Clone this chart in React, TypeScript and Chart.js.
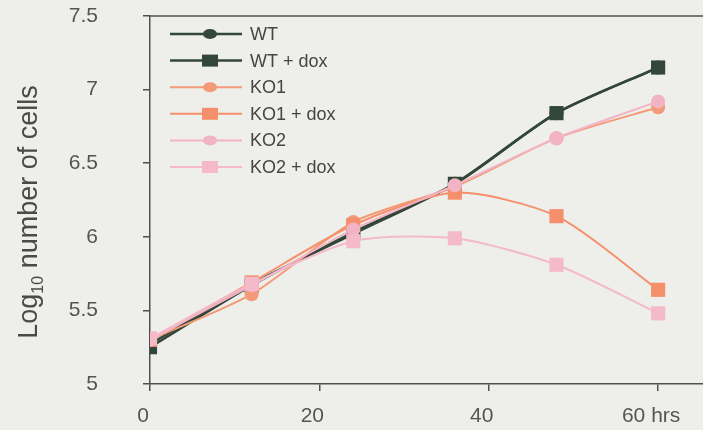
import React, { useEffect, useRef } from "react";
import { Chart, registerables } from "chart.js";

Chart.register(...registerables);

// ---- data ----
const hours = [0, 12, 24, 36, 48, 60];
const seriesLabels = ["WT", "WT + dox", "KO1", "KO1 + dox", "KO2", "KO2 + dox"];
const wt = [5.27, 5.68, 6.02, 6.36, 6.84, 7.15];
const wtDox = [5.25, 5.67, 6.03, 6.36, 6.84, 7.15];
const ko1 = [5.3, 5.61, 6.1, 6.34, 6.67, 6.88];
const ko1Dox = [5.3, 5.69, 6.08, 6.3, 6.14, 5.64];
const ko2 = [5.3, 5.67, 6.05, 6.35, 6.67, 6.92];
const ko2Dox = [5.31, 5.68, 5.97, 5.99, 5.81, 5.48];
const xTicks = [0, 20, 40, 60];
const yTicks = [5, 5.5, 6, 6.5, 7, 7.5];

const seriesValues = [wt, wtDox, ko1, ko1Dox, ko2, ko2Dox];
const seriesColors = ["#34473b", "#33463a", "#f39a78", "#f58f6c", "#f2b4c4", "#f4bac9"];
const seriesShapes = ["circle", "rect", "circle", "rect", "circle", "rect"];
const seriesWidths = [2.5, 2.5, 2, 2, 2, 2];
const seriesOrder = [6, 5, 4, 3, 2, 1];

const FONT = '"Liberation Sans", Arial, sans-serif';
const AXIS = "#505050";

const bgPlugin = {
  id: "bg",
  beforeDraw(chart: any) {
    const { ctx, width, height } = chart;
    ctx.save();
    ctx.fillStyle = "#eeeeea";
    ctx.fillRect(0, 0, width, height);
    ctx.restore();
  },
};

const framePlugin = {
  id: "frame",
  afterDraw(chart: any) {
    const { ctx, chartArea } = chart;
    ctx.save();
    ctx.strokeStyle = AXIS;
    ctx.lineWidth = 1.5;
    ctx.beginPath();
    ctx.moveTo(chartArea.left, chartArea.top);
    ctx.lineTo(chartArea.right, chartArea.top);
    ctx.stroke();
    ctx.restore();
  },
};

const yTitlePlugin = {
  id: "yTitle",
  afterDraw(chart: any) {
    const { ctx, chartArea } = chart;
    const big = `27px ${FONT}`;
    const small = `16px ${FONT}`;
    const p1 = "Log";
    const p2 = "10";
    const p3 = " number of cells";
    ctx.save();
    ctx.font = big;
    const w1 = ctx.measureText(p1).width;
    const w3 = ctx.measureText(p3).width;
    ctx.font = small;
    const w2 = ctx.measureText(p2).width;
    const total = w1 + w2 + w3;
    const cy = (chartArea.top + chartArea.bottom) / 2 + 12;
    ctx.translate(37, cy);
    ctx.rotate(-Math.PI / 2);
    ctx.fillStyle = "#4a4a4a";
    ctx.textBaseline = "alphabetic";
    ctx.textAlign = "left";
    let x = -total / 2;
    ctx.font = big;
    ctx.fillText(p1, x, 0);
    x += w1;
    ctx.font = small;
    ctx.fillText(p2, x, 6);
    x += w2;
    ctx.font = big;
    ctx.fillText(p3, x, 0);
    ctx.restore();
  },
};

const legendPlugin = {
  id: "customLegend",
  afterDraw(chart: any) {
    const { ctx, chartArea } = chart;
    const x0 = chartArea.left + 20;
    chart.data.datasets.forEach((ds: any, i: number) => {
      const y = chartArea.top + 18 + i * 26.6;
      ctx.save();
      ctx.strokeStyle = ds.borderColor;
      ctx.lineWidth = ds.borderWidth;
      ctx.beginPath();
      ctx.moveTo(x0, y);
      ctx.lineTo(x0 + 72, y);
      ctx.stroke();
      ctx.fillStyle = ds.pointBackgroundColor;
      const mx = x0 + 40;
      if (ds.pointStyle === "circle") {
        ctx.beginPath();
        ctx.ellipse(mx, y, 7, 5, 0, 0, Math.PI * 2);
        ctx.fill();
      } else {
        ctx.fillRect(mx - 8, y - 6, 16, 12);
      }
      ctx.fillStyle = "#454545";
      ctx.font = `18px ${FONT}`;
      ctx.textBaseline = "middle";
      ctx.textAlign = "left";
      ctx.fillText(ds.label, x0 + 80, y + 1);
      ctx.restore();
    });
  },
};

const zeroPadding = (s: any) => {
  s.paddingTop = 0;
  s.paddingBottom = 0;
  s.paddingLeft = 0;
  s.paddingRight = 0;
};

export default function App() {
  const ref = useRef<HTMLCanvasElement | null>(null);

  useEffect(() => {
    if (!ref.current) return;
    const datasets = seriesLabels.map((label, i) => ({
      label,
      data: hours.map((h, j) => ({ x: h, y: seriesValues[i][j] })),
      borderColor: seriesColors[i],
      backgroundColor: seriesColors[i],
      pointBackgroundColor: seriesColors[i],
      pointBorderColor: seriesColors[i],
      pointBorderWidth: 0,
      pointStyle: seriesShapes[i],
      pointRadius: seriesShapes[i] === "rect" ? 10 : 7,
      borderWidth: seriesWidths[i],
      tension: 0.25,
      fill: false,
      order: seriesOrder[i],
    }));

    const chart = new Chart(ref.current, {
      type: "line",
      data: { datasets },
      plugins: [bgPlugin, framePlugin, yTitlePlugin, legendPlugin],
      options: {
        animation: false,
        responsive: false,
        maintainAspectRatio: false,
        layout: { autoPadding: false, padding: { top: 16, right: 0, left: 0, bottom: 0 } },
        plugins: {
          legend: { display: false },
          tooltip: { enabled: false },
        },
        scales: {
          x: {
            type: "linear",
            min: 0,
            max: 65.3,
            afterBuildTicks: (s: any) => {
              s.ticks = xTicks.map((v) => ({ value: v }));
            },
            afterFit: (s: any) => {
              s.height = 46;
              zeroPadding(s);
            },
            ticks: {
              autoSkip: false,
              maxRotation: 0,
              padding: 13,
              labelOffset: -7,
              color: "#555",
              font: { family: FONT, size: 21 },
              callback: (v: any) => (v === 60 ? "60 hrs" : String(v)),
            },
            grid: { drawOnChartArea: false, tickLength: 7, color: AXIS, lineWidth: 1.5 },
            border: { color: AXIS, width: 1.5 },
          },
          y: {
            type: "linear",
            min: 5,
            max: 7.5,
            afterBuildTicks: (s: any) => {
              s.ticks = yTicks.map((v) => ({ value: v }));
            },
            afterFit: (s: any) => {
              s.width = 150;
              zeroPadding(s);
            },
            ticks: {
              padding: 45,
              color: "#555",
              font: { family: FONT, size: 21 },
              callback: (v: any) => String(v),
            },
            grid: { drawOnChartArea: false, tickLength: 7, color: AXIS, lineWidth: 1.5 },
            border: { color: AXIS, width: 1.5 },
          },
        },
      },
    } as any);
    return () => chart.destroy();
  }, []);

  return (
    <div style={{ position: "fixed", left: 0, top: 0, width: 703, height: 430 }}>
      <canvas ref={ref} width={703} height={430} />
    </div>
  );
}
